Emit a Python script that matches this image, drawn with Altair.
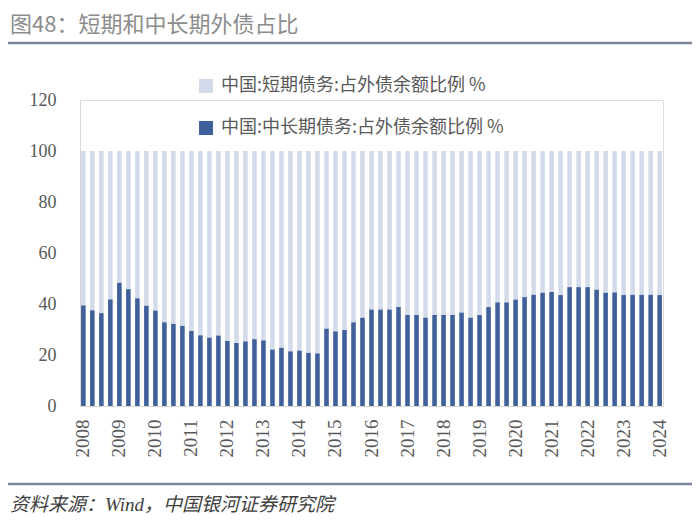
import altair as alt
import pandas as pd

# ---- data ----
first_year = 2008
last_year = 2024
year_labels = [str(y) for y in range(first_year, last_year + 1)]
# share of medium/long-term debt in total external debt (%), quarterly, 65 bars
long_share = [
    39.4, 37.5, 36.4, 41.8, 48.3, 45.8, 42.2, 39.3, 37.4, 32.8,
    32.2, 31.4, 29.4, 27.7, 26.8, 27.6, 25.5, 24.7, 25.3, 26.2,
    25.7, 22.1, 22.8, 21.4, 21.7, 20.8, 20.6, 30.3, 29.2, 29.8,
    32.8, 34.6, 37.8, 37.8, 37.8, 38.8, 35.7, 35.7, 34.6, 35.7,
    35.7, 35.7, 36.6, 34.6, 35.7, 38.8, 40.6, 40.6, 41.7, 42.7,
    43.6, 44.4, 44.7, 43.5, 46.6, 46.6, 46.6, 45.6, 44.4, 44.5,
    43.5, 43.6, 43.6, 43.6, 43.5,
]
y_ticks = [0, 20, 40, 60, 80, 100, 120]
short_label = "中国:短期债务:占外债余额比例 %"
long_label = "中国:中长期债务:占外债余额比例 %"
title_text = "图48：短期和中长期外债占比"
source_text = "资料来源：Wind，中国银河证券研究院"

LIGHT = "#d3dbea"
DARK = "#40609b"
GREY = "#595959"

df = pd.DataFrame({"idx": list(range(len(long_share))), "long": long_share})
label_positions = [i * 4 for i in range(len(year_labels))]

x_enc = alt.X(
    "idx:O",
    scale=alt.Scale(paddingInner=0.5, paddingOuter=0.12),
    axis=alt.Axis(
        values=label_positions,
        labelExpr=f"toString({first_year} + datum.value / 4)",
        labelAngle=270,
        ticks=False,
        domain=True,
        domainColor="#d9d9d9",
        title=None,
        labelFontSize=19,
        labelFont="Liberation Serif",
        labelColor=GREY,
        labelPadding=13,
    ),
)

color_scale = alt.Scale(domain=[short_label, long_label], range=[LIGHT, DARK])
legend = alt.Legend(
    orient="none",
    legendX=117,
    legendY=-23,
    title=None,
    symbolType="square",
    symbolSize=196,
    symbolStrokeWidth=0,
    labelFontSize=18,
    labelFont="Noto Sans CJK SC",
    labelColor=GREY,
    labelOffset=6,
    rowPadding=24,
    padding=0,
    labelLimit=400,
)

base = alt.Chart(df)

light = base.transform_calculate(
    total="100", series=f"'{short_label}'"
).mark_bar().encode(
    x=x_enc,
    y=alt.Y(
        "total:Q",
        scale=alt.Scale(domain=[0, 120]),
        axis=alt.Axis(
            values=y_ticks,
            grid=False,
            ticks=False,
            domainColor="#d9d9d9",
            title=None,
            labelFontSize=18,
            labelFont="Liberation Serif",
            labelColor=GREY,
            labelPadding=24,
        ),
    ),
    color=alt.Color("series:N", scale=color_scale, legend=legend),
)

dark = base.transform_calculate(series=f"'{long_label}'").mark_bar().encode(
    x=x_enc,
    y=alt.Y("long:Q"),
    color=alt.Color("series:N", scale=color_scale, legend=legend),
)

one = pd.DataFrame({"t": [title_text]})
src = pd.DataFrame({"t": [source_text]})

title_mark = alt.Chart(one).mark_text(
    align="left", baseline="middle", fontSize=22, font="Noto Sans CJK SC", color="#8c8c8c"
).encode(x=alt.value(-70), y=alt.value(-75), text="t:N")

source_mark = alt.Chart(src).mark_text(
    align="left", baseline="middle", fontSize=19,
    font="Liberation Serif, Noto Sans CJK SC", fontStyle="italic", color="#404040"
).encode(x=alt.value(-70), y=alt.value(405), text="t:N")

top_line = alt.Chart(one).mark_rule(color="#7c869b", strokeWidth=2.5).encode(
    x=alt.value(-72), x2=alt.value(612), y=alt.value(-57)
)
bottom_line = alt.Chart(one).mark_rule(color="#7c869b", strokeWidth=2.5).encode(
    x=alt.value(-72), x2=alt.value(612), y=alt.value(384)
)

chart = alt.layer(light, dark, title_mark, source_mark, top_line, bottom_line).properties(
    width=583,
    height=306,
    padding={"left": 72, "top": 92, "right": 29, "bottom": 108},
    autosize=alt.AutoSizeParams(type="none"),
).configure_view(stroke=None).configure(background="white")

chart.save("out.html", embed_options={"renderer": "svg", "actions": False})
